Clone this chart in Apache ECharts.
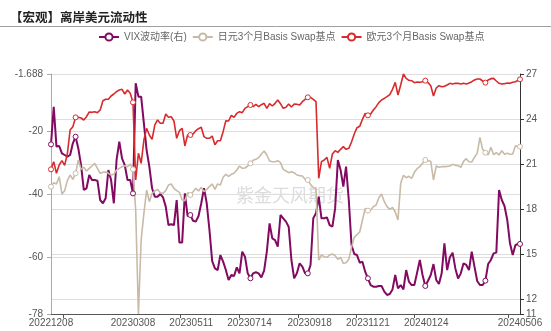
<!DOCTYPE html>
<html>
<head>
<meta charset="utf-8">
<script src="https://cdn.jsdelivr.net/npm/echarts@6/dist/echarts.min.js"></script>
<style>
  html, body { margin: 0; padding: 0; background: #fff; }
  #chart { width: 551px; height: 331px; }
</style>
</head>
<body>
<div id="chart"></div>
<script>
// Sampling dates: every third calendar day from 2022-12-08, closing on 2024-05-06
const dates = [];
for (let i = 0; i < 172; i++) dates.push(new Date(2022, 11, 8 + 3 * i).getTime());
dates.push(new Date(2024, 4, 6).getTime());

// VIX (right axis)
const vix = [
  22.31, 24.82, 22.16, 22.20, 21.71, 21.60, 21.49, 21.60, 22.38, 22.82,
  22.04, 20.93, 19.27, 19.38, 20.27, 19.93, 19.93, 19.89, 18.60, 18.38,
  18.71, 20.60, 19.93, 18.38, 21.27, 22.49, 21.38, 20.93, 19.93, 19.93,
  19.04, 26.38, 25.49, 25.49, 23.71, 21.93, 20.82, 19.38, 18.82, 18.82,
  19.00, 18.78, 18.16, 16.93, 16.98, 16.93, 18.60, 15.76, 15.76, 19.04,
  17.53, 17.60, 17.22, 17.16, 17.53, 18.38, 19.38, 18.38, 16.60, 14.53,
  14.04, 13.93, 14.93, 14.49, 13.93, 13.27, 13.60, 13.53, 14.11, 13.71,
  15.16, 14.82, 13.71, 13.38, 13.71, 13.78, 13.71, 13.44, 13.89, 15.16,
  17.04, 16.04, 15.93, 15.49, 17.60, 17.38, 17.16, 16.82, 14.60, 13.38,
  13.71, 14.38, 14.16, 13.71, 13.71, 14.27, 17.38, 17.71, 18.82, 17.38,
  17.38, 17.44, 16.93, 16.82, 18.04, 21.27, 20.60, 19.49, 20.82, 18.60,
  15.60, 15.00, 14.93, 14.42, 14.49, 13.82, 13.38, 12.93, 12.82, 12.82,
  12.87, 12.87, 12.49, 12.27, 12.33, 12.64, 13.60, 12.71, 12.93, 12.64,
  13.93, 13.16, 12.93, 12.93, 13.76, 14.60, 13.60, 12.87, 13.22, 13.60,
  14.33, 13.27, 13.00, 13.71, 15.71, 13.93, 14.78, 15.09, 14.04, 13.36,
  13.71, 14.38, 14.27, 13.93, 15.16, 14.16, 13.20, 12.93, 12.93, 13.22,
  14.33, 14.60, 15.04, 15.09, 19.27, 18.60, 18.20, 17.27, 15.71, 14.93,
  15.60, 15.67, 15.67
];

// JPY 3M basis swap, bp (left axis)
const jpyBasis = [
  -37.51, -36.24, -36.66, -34.33, -39.84, -38.78, -35.60, -33.80, -35.18, -33.27,
  -29.03, -32.00, -31.36, -32.53, -31.68, -30.94, -30.09, -31.68, -33.27, -32.95,
  -32.85, -33.27, -33.80, -33.59, -32.21, -31.68, -31.15, -30.83, -31.15, -30.30,
  -32.00, -44.93, -78.00, -54.47, -45.99, -38.57, -42.28, -39.63, -38.89, -38.36,
  -39.42, -39.63, -38.78, -36.98, -36.66, -38.04, -38.78, -39.31, -41.75, -41.96,
  -39.42, -40.16, -39.10, -38.04, -38.89, -37.72, -39.10, -38.36, -37.51, -36.66,
  -38.36, -36.66, -36.98, -34.54, -33.59, -34.23, -33.59, -33.27, -32.21, -30.94,
  -31.68, -31.58, -30.94, -30.09, -29.14, -28.82, -28.29, -27.12, -26.17, -27.44,
  -29.35, -29.57, -29.57, -29.24, -29.88, -32.00, -32.53, -33.06, -32.74, -33.06,
  -33.80, -34.01, -34.12, -35.18, -35.39, -36.77, -37.83, -38.04, -60.83, -59.24,
  -59.77, -59.98, -59.24, -58.92, -59.45, -60.62, -59.98, -61.89, -61.68, -60.62,
  -56.80, -53.62, -52.77, -51.93, -48.11, -44.40, -45.14, -44.93, -43.87, -43.34,
  -41.01, -39.84, -42.28, -43.87, -44.72, -44.08, -45.57, -48.11, -36.45, -33.91,
  -34.65, -34.23, -34.86, -32.95, -31.79, -31.15, -30.09, -29.03, -29.24, -29.46,
  -35.39, -30.94, -31.36, -31.15, -31.15, -31.05, -30.94, -30.41, -30.73, -30.83,
  -31.36, -29.46, -28.61, -29.57, -29.67, -28.19, -26.91, -21.83, -25.64, -26.70,
  -27.44, -25.00, -27.34, -26.70, -27.44, -26.06, -27.23, -26.91, -27.23, -27.12,
  -24.47, -24.79, -24.79
];

// EUR 3M basis swap, bp (left axis)
const eurBasis = [
  -32.00, -29.57, -33.27, -30.62, -29.24, -30.73, -26.91, -19.49, -18.43, -15.47,
  -15.47, -15.68, -16.31, -15.25, -13.77, -13.88, -13.66, -13.98, -13.13, -10.17,
  -9.74, -9.74, -8.68, -8.05, -7.31, -6.78, -6.56, -8.05, -6.78, -7.84,
  -10.70, -35.39, -26.91, -30.09, -22.67, -18.96, -21.08, -22.46, -17.90, -16.31,
  -17.37, -17.37, -14.41, -15.47, -15.25, -16.63, -22.14, -19.71, -18.96, -24.58,
  -21.08, -21.08, -20.77, -19.71, -19.07, -18.65, -21.61, -22.14, -22.14, -21.40,
  -24.16, -22.89, -22.89, -20.02, -16.53, -16.63, -14.83, -15.47, -14.19, -13.66,
  -13.98, -12.60, -12.07, -11.54, -12.07, -11.33, -12.07, -11.44, -11.01, -12.60,
  -11.12, -11.86, -11.01, -9.95, -11.12, -12.60, -12.29, -11.23, -12.18, -11.23,
  -11.33, -11.54, -10.49, -9.74, -9.11, -9.11, -9.74, -10.49, -34.86, -29.57,
  -29.03, -28.19, -31.68, -27.12, -26.06, -26.60, -25.64, -24.79, -25.64, -25.32,
  -23.31, -20.77, -18.75, -18.33, -16.10, -14.19, -14.83, -14.41, -13.13, -12.07,
  -10.80, -9.95, -9.42, -8.89, -8.26, -6.56, -4.34, -8.36, -5.19, -1.688,
  -3.07, -3.70, -3.81, -4.44, -4.23, -4.34, -4.13, -3.81, -4.44, -5.40,
  -8.68, -6.14, -5.40, -5.72, -5.61, -5.19, -4.66, -4.87, -4.66, -4.66,
  -4.87, -4.66, -4.87, -4.55, -4.13, -3.60, -3.28, -3.28, -3.91, -4.44,
  -3.60, -3.17, -3.07, -3.91, -4.66, -4.87, -4.76, -4.55, -4.66, -4.34,
  -4.13, -3.70, -3.38
];

// Axis annotations
const labelDates = ['2022-12-08', '2023-03-08', '2023-05-11', '2023-07-14',
                    '2023-09-18', '2023-11-21', '2024-01-24', '2024-05-06'];
const tickDates = ['2022-12-21', '2023-04-29', '2023-07-03', '2023-09-06',
                   '2023-11-08', '2024-01-11', '2024-04-23'];
// samples that carry a hollow marker
const markerIdx = [0, 9, 30, 51, 73, 94, 116, 137, 159, 172];

const names = ['VIX波动率(右)', '日元3个月Basis Swap基点', '欧元3个月Basis Swap基点'];
const colors = ['#820a60', '#c8baa7', '#d82a2c'];

const toTime = s => { const p = s.split('-').map(Number); return new Date(p[0], p[1] - 1, p[2]).getTime(); };
const pad = n => (n < 10 ? '0' : '') + n;
const fmtDate = v => { const d = new Date(v); return d.getFullYear() + pad(d.getMonth() + 1) + pad(d.getDate()); };
const pairs = arr => arr.map((v, i) => [dates[i], v]);
const marks = arr => markerIdx.map(i => [dates[i], arr[i]]);

const FONT = '"Liberation Sans", "Noto Sans CJK SC", sans-serif';
const chart = echarts.init(document.getElementById('chart'), null, { renderer: 'canvas' });

const lineSeries = (name, arr, color, yi, width) => ({
  name, type: 'line', yAxisIndex: yi, data: pairs(arr),
  symbol: 'emptyCircle', symbolSize: 6, showSymbol: false,
  lineStyle: { color, width }, itemStyle: { color },
  emphasis: { disabled: true }
});
const markerSeries = (arr, color, yi) => ({
  name: 'm' + color, type: 'scatter', yAxisIndex: yi, data: marks(arr),
  symbol: 'circle', symbolSize: 5, z: 5,
  itemStyle: { color: '#fff', borderColor: color, borderWidth: 1, opacity: 1 },
  emphasis: { disabled: true }, silent: true
});

chart.setOption({
  animation: false,
  textStyle: { fontFamily: FONT },
  title: {
    text: '【宏观】离岸美元流动性', left: 5, top: 6,
    textStyle: { fontSize: 12.5, fontWeight: 'bold', color: '#222', fontFamily: '"Noto Sans CJK SC", sans-serif' }
  },
  graphic: [
    { type: 'line', shape: { x1: 0, y1: 26.5, x2: 551, y2: 26.5 }, style: { stroke: '#a0a0a0', lineWidth: 1 } },
    { type: 'text', x: 290, y: 195, z: 0,
      style: { text: '紫金天风期货', fontSize: 18, fill: '#dcdcdc', align: 'center', verticalAlign: 'middle',
               fontFamily: '"Noto Sans CJK SC", sans-serif' } }
  ],
  legend: {
    data: names, left: 93, top: 27, itemWidth: 20, itemHeight: 9, itemGap: 5,
    textStyle: { fontSize: 10, color: '#666' }
  },
  grid: { left: 51, right: 31, top: 74, bottom: 17 },
  xAxis: {
    type: 'value', min: toTime(labelDates[0]), max: toTime(labelDates[labelDates.length - 1]),
    axisLine: { lineStyle: { color: '#555', width: 1 } },
    axisTick: { show: true, length: 4, customValues: tickDates.map(toTime), lineStyle: { color: '#555' } },
    axisLabel: {
      customValues: labelDates.map(toTime), fontSize: 10, color: '#555', margin: 4,
      formatter: fmtDate
    },
    splitLine: { show: false }
  },
  yAxis: [
    {
      type: 'value', position: 'left', min: -78, max: -1.688,
      axisLine: { show: true, lineStyle: { color: '#aaa', width: 1 } },
      axisTick: { show: true, length: 4, lineStyle: { color: '#aaa' } },
      axisLabel: { fontSize: 10, color: '#555', margin: 8 },
      splitLine: { lineStyle: { color: '#dedede' } }
    },
    {
      type: 'value', position: 'right', min: 11, max: 27,
      axisLine: { show: true, lineStyle: { color: '#333', width: 1 } },
      axisTick: { show: true, length: 4, lineStyle: { color: '#333' } },
      axisLabel: { fontSize: 10, color: '#555', margin: 6 },
      splitLine: { lineStyle: { color: '#dedede' } }
    }
  ],
  series: [
    lineSeries(names[0], vix, colors[0], 1, 2),
    lineSeries(names[1], jpyBasis, colors[1], 0, 1.6),
    lineSeries(names[2], eurBasis, colors[2], 0, 1.6),
    markerSeries(vix, colors[0], 1),
    markerSeries(jpyBasis, colors[1], 0),
    markerSeries(eurBasis, colors[2], 0)
  ]
});
</script>
</body>
</html>
